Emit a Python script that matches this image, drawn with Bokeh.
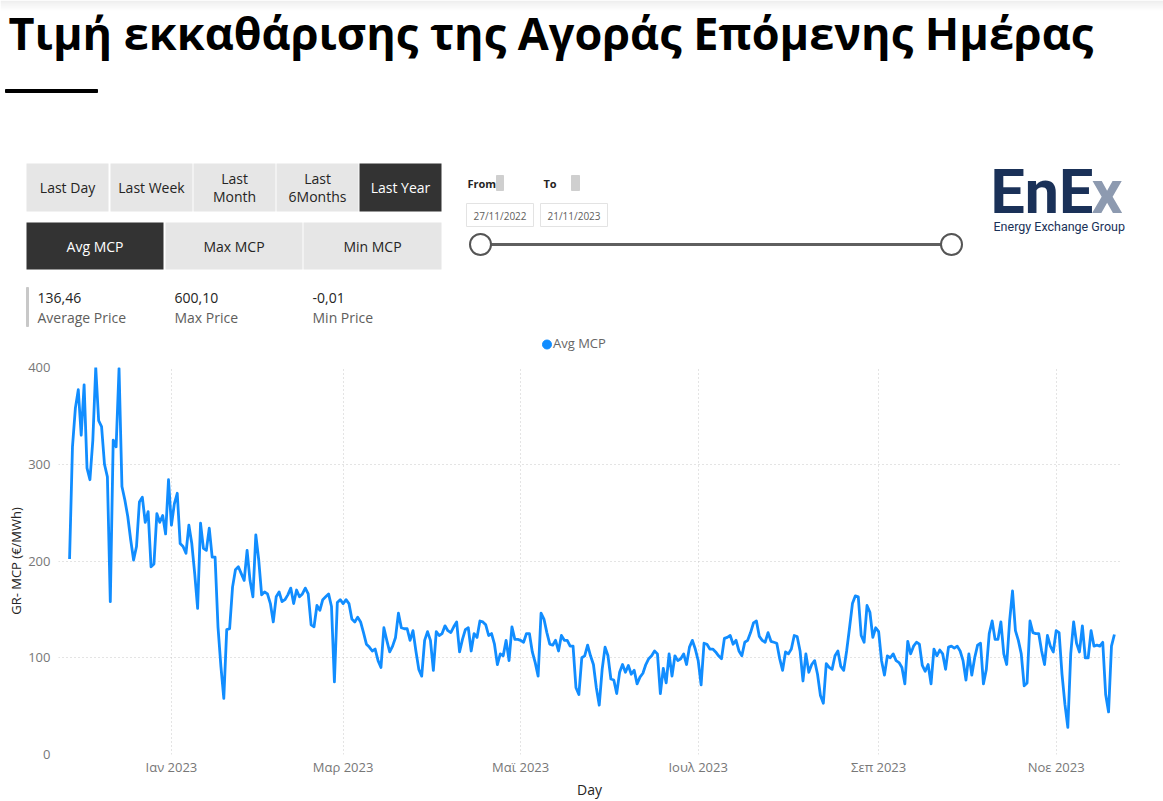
import pandas as pd
from bokeh.plotting import figure
from bokeh.models import Range1d, FixedTicker, Legend, LegendItem, ColumnDataSource
from bokeh.layouts import column
from bokeh.embed import file_html
from bokeh.resources import INLINE
from bokeh.core.properties import value

# ---------------- data ----------------
title_text = "Τιμή εκκαθάρισης της Αγοράς Επόμενης Ημέρας"
start_date = "2022-11-27"
avg_mcp = [
    202, 318, 358, 377, 330, 382, 296, 284, 325, 400, 345, 339, 300, 287, 158, 325,
    318, 399, 277, 263, 246, 222, 201, 215, 261, 266, 240, 251, 194, 197, 249, 240,
    247, 228, 284, 237, 259, 270, 218, 215, 208, 237, 218, 187, 151, 239, 213, 211,
    234, 204, 204, 132, 91, 58, 129, 130, 173, 191, 194, 187, 180, 211, 180, 163,
    227, 201, 165, 168, 166, 156, 137, 163, 168, 158, 160, 165, 172, 156, 170, 163,
    166, 172, 166, 134, 132, 154, 149, 160, 163, 166, 153, 75,
    157, 160, 156, 160, 156, 140, 137, 142, 137, 126, 114, 111, 107, 109, 97, 90,
    131, 118, 106, 112, 121, 146, 131, 130, 130, 118, 128, 107, 88, 81, 118, 127,
    118, 87, 127, 123, 125, 133, 128, 126, 132, 137, 106, 119, 129, 131, 107, 125,
    121, 138, 137, 134, 123, 125, 114, 93, 104, 102, 118, 97, 132, 119, 119, 118,
    116, 125, 125, 106, 95, 81, 146, 140, 126, 114, 113, 118, 107, 123, 118, 118,
    112, 112, 69, 62, 100, 102, 113, 102, 93, 69, 51,
    88, 111, 102, 78, 77, 63, 85, 93, 85, 92, 83, 87, 73, 80, 84, 93,
    99, 102, 107, 104, 63, 89, 74, 104, 81, 102, 97, 99, 104, 93, 111, 118,
    109, 97, 72, 115, 114, 109, 109, 106, 102, 99, 120, 121, 123, 114, 118, 107,
    102, 116, 118, 126, 136, 138, 122, 118, 116, 126, 117, 116, 115, 99, 87, 106,
    104, 109, 123, 122, 107, 76, 104, 85, 93, 97, 83, 61, 53, 94, 90, 88,
    102, 107, 91, 87, 107, 131, 156, 164, 163,
    123, 116, 154, 147, 121, 131, 127, 97, 82, 102, 100, 104, 97, 95, 90, 73,
    117, 104, 112, 116, 114, 92, 86, 93, 73, 109, 102, 108, 104, 88, 111, 112,
    110, 112, 107, 97, 77, 104, 82, 100, 113, 115, 73, 88, 125, 138, 119, 119,
    137, 104, 93, 138, 169, 128, 118, 104, 71, 74, 138, 126, 125, 125, 107, 93,
    123, 112, 106, 128, 126, 83, 52, 28, 104, 137, 115, 106, 133, 100, 100, 128,
    112, 113, 112, 116, 62, 44, 112, 124,
]
month_ticks = ["2023-01-01", "2023-03-01", "2023-05-01", "2023-07-01", "2023-09-01", "2023-11-01"]
month_labels = ["Ιαν 2023", "Μαρ 2023", "Μαϊ 2023", "Ιουλ 2023", "Σεπ 2023", "Νοε 2023"]
y_ticks = [0, 100, 200, 300, 400]

period_buttons = [["Last Day"], ["Last Week"], ["Last", "Month"], ["Last", "6Months"], ["Last Year"]]
measure_buttons = ["Avg MCP", "Max MCP", "Min MCP"]
kpi_values = ["136,46", "600,10", "-0,01"]
kpi_labels = ["Average Price", "Max Price", "Min Price"]
date_from = "27/11/2022"
date_to = "21/11/2023"
series_name = "Avg MCP"
y_title = "GR- MCP (€/MWh)"
x_title = "Day"

FONT = value("Open Sans")
BLUE = "#118DFF"
LIGHT = "#e6e6e6"
DARK = "#333333"
TXT = "#252423"

W = 1163
H1 = 356
H2 = 801 - H1

# ---------------- header (dashboard controls + legend strip) ----------------
hdr = figure(width=W, height=H1, x_range=Range1d(0, W), y_range=Range1d(H1, 0),
             output_backend="svg", toolbar_location=None, min_border=0,
             x_axis_location=None, y_axis_location=None, frame_align=False)
hdr.grid.visible = False
hdr.outline_line_color = None

# faint shadow at the very top of the page
for k in range(8):
    hdr.quad(left=[0], right=[W], top=[k * 1.25], bottom=[(k + 1) * 1.25],
             fill_color="#9a9a9a", fill_alpha=0.16 * (1 - k / 8), line_color=None)

hdr.text(x=[8], y=[32], text=[title_text], text_font=FONT, text_font_style="bold",
         text_font_size="45px", text_color="#000000", text_baseline="middle")
hdr.quad(left=[5], right=[97], top=[89], bottom=[92], color="#000000")

# period buttons
p_left = [26, 110, 193, 276, 359]
for i, lines in enumerate(period_buttons):
    sel = (i == len(period_buttons) - 1)
    hdr.quad(left=[p_left[i]], right=[p_left[i] + 82], top=[163], bottom=[211],
             fill_color=DARK if sel else LIGHT, line_color=None)
    cx = p_left[i] + 41
    ys = [187] if len(lines) == 1 else [178, 196]
    hdr.text(x=[cx] * len(lines), y=ys, text=lines, text_font=FONT, text_font_size="14px",
             text_color="#ffffff" if sel else TXT, text_align="center", text_baseline="middle")

# measure buttons
m_left = [26, 165, 303]
m_right = [163, 302, 441]
for i, lab in enumerate(measure_buttons):
    sel = (i == 0)
    hdr.quad(left=[m_left[i]], right=[m_right[i]], top=[222], bottom=[269],
             fill_color=DARK if sel else LIGHT, line_color=None)
    hdr.text(x=[(m_left[i] + m_right[i]) / 2], y=[246], text=[lab], text_font=FONT,
             text_font_size="14px", text_color="#ffffff" if sel else TXT,
             text_align="center", text_baseline="middle")

# KPI cards
hdr.quad(left=[26], right=[28], top=[287], bottom=[326], color="#c8c8c8")
kx = [37, 174, 312]
hdr.text(x=kx, y=[297] * 3, text=kpi_values, text_font=FONT, text_font_size="14px",
         text_color=TXT, text_baseline="middle")
hdr.text(x=kx, y=[317] * 3, text=kpi_labels, text_font=FONT, text_font_size="14px",
         text_color="#605e5c", text_baseline="middle")

# date slicer
hdr.text(x=[467, 543], y=[183, 183], text=["From", "To"], text_font=FONT, text_font_style="bold",
         text_font_size="11px", text_color=TXT, text_baseline="middle")
hdr.quad(left=[496, 571], right=[503, 579], top=[175, 175], bottom=[190, 190], color="#cfcfcf")
hdr.quad(left=[466, 540], right=[533, 607], top=[203, 203], bottom=[226, 226],
         fill_color="#ffffff", line_color="#e3e3e3")
hdr.text(x=[499.5, 573.5], y=[215, 215], text=[date_from, date_to], text_font=FONT,
         text_font_size="10px", text_color="#605e5c", text_align="center", text_baseline="middle")
hdr.line(x=[480, 951], y=[244, 244], line_color="#5f5f5f", line_width=3)
hdr.circle(x=[480, 951], y=[244, 244], radius=10.5, fill_color="#ffffff",
           line_color="#555555", line_width=2)

# logo
hdr.text(x=[990], y=[191], text=["EnE"], text_font=value("Roboto"), text_font_style="bold",
         text_font_size="61px", text_color="#1a3158", text_baseline="middle")
hdr.text(x=[1091], y=[191], text=["x"], text_font=value("Roboto"), text_font_style="bold",
         text_font_size="61px", text_color="#8d9ab0", text_baseline="middle")
hdr.text(x=[993], y=[226], text=["Energy Exchange Group"], text_font=value("Roboto"),
         text_font_size="12.5px", text_color="#1a3158", text_baseline="middle")

# series legend (sits just above the plot area); its key is a filled circle
legend_key = hdr.scatter(x=[546.5], y=[344], marker="circle", size=9, color=BLUE)
legend = Legend(items=[LegendItem(label=series_name, renderers=[legend_key])],
                location=(541, 4), orientation="horizontal",
                border_line_color=None, background_fill_alpha=0,
                padding=0, margin=0, spacing=0, label_standoff=2,
                glyph_width=10, glyph_height=10, label_height=16,
                label_text_font="Open Sans", label_text_font_size="13px",
                label_text_color="#666666")
hdr.add_layout(legend, "center")

# ---------------- chart ----------------
dates = pd.date_range(start_date, periods=len(avg_mcp), freq="D")
src = ColumnDataSource(dict(day=dates, mcp=avg_mcp))

jan1 = pd.Timestamp("2023-01-01")
x_start = jan1 - pd.Timedelta(hours=38.8 * 24)
x_end = jan1 + pd.Timedelta(hours=326.1 * 24)

ch = figure(width=W, height=H2, x_axis_type="datetime",
            x_range=Range1d(x_start, x_end), y_range=Range1d(0, 400),
            output_backend="svg", toolbar_location=None, frame_align=False,
            min_border_left=58, min_border_right=43, min_border_top=367 - H1,
            min_border_bottom=47)
ch.outline_line_color = None

line_r = ch.line(x="day", y="mcp", source=src, line_color=BLUE, line_width=2.8,
                 line_join="round")

tick_ms = [pd.Timestamp(t).value / 1e6 for t in month_ticks]
xt = FixedTicker(ticks=tick_ms)
ch.xaxis.ticker = xt
ch.xaxis.major_label_overrides = {t: l for t, l in zip(tick_ms, month_labels)}
ch.xgrid.ticker = xt
yt = FixedTicker(ticks=y_ticks)
ch.yaxis.ticker = yt
ch.ygrid.ticker = yt

for ax in (ch.xaxis[0], ch.yaxis[0]):
    ax.axis_line_color = None
    ax.major_tick_line_color = None
    ax.minor_tick_line_color = None
    ax.major_tick_out = 0
    ax.minor_tick_out = 0
    ax.major_label_text_font = "Open Sans"
    ax.major_label_text_font_size = "13px"
    ax.major_label_text_color = "#777777"
    ax.axis_label_text_font = "Open Sans"
    ax.axis_label_text_font_style = "normal"
    ax.axis_label_text_color = TXT

ch.xaxis.axis_label = x_title
ch.xaxis.axis_label_text_font_size = "14px"
ch.xaxis.major_label_standoff = 3
ch.xaxis.axis_label_standoff = 1
ch.yaxis.axis_label = y_title
ch.yaxis.axis_label_text_font_size = "13px"
ch.yaxis.major_label_standoff = 8
ch.yaxis.axis_label_standoff = 0

for g in (ch.xgrid[0], ch.ygrid[0]):
    g.grid_line_color = "#c8c8c8"
    g.grid_line_dash = "1 3"
    g.grid_line_width = 1

page = column(hdr, ch, spacing=0)
open("out.html", "w").write(file_html(page, INLINE))
